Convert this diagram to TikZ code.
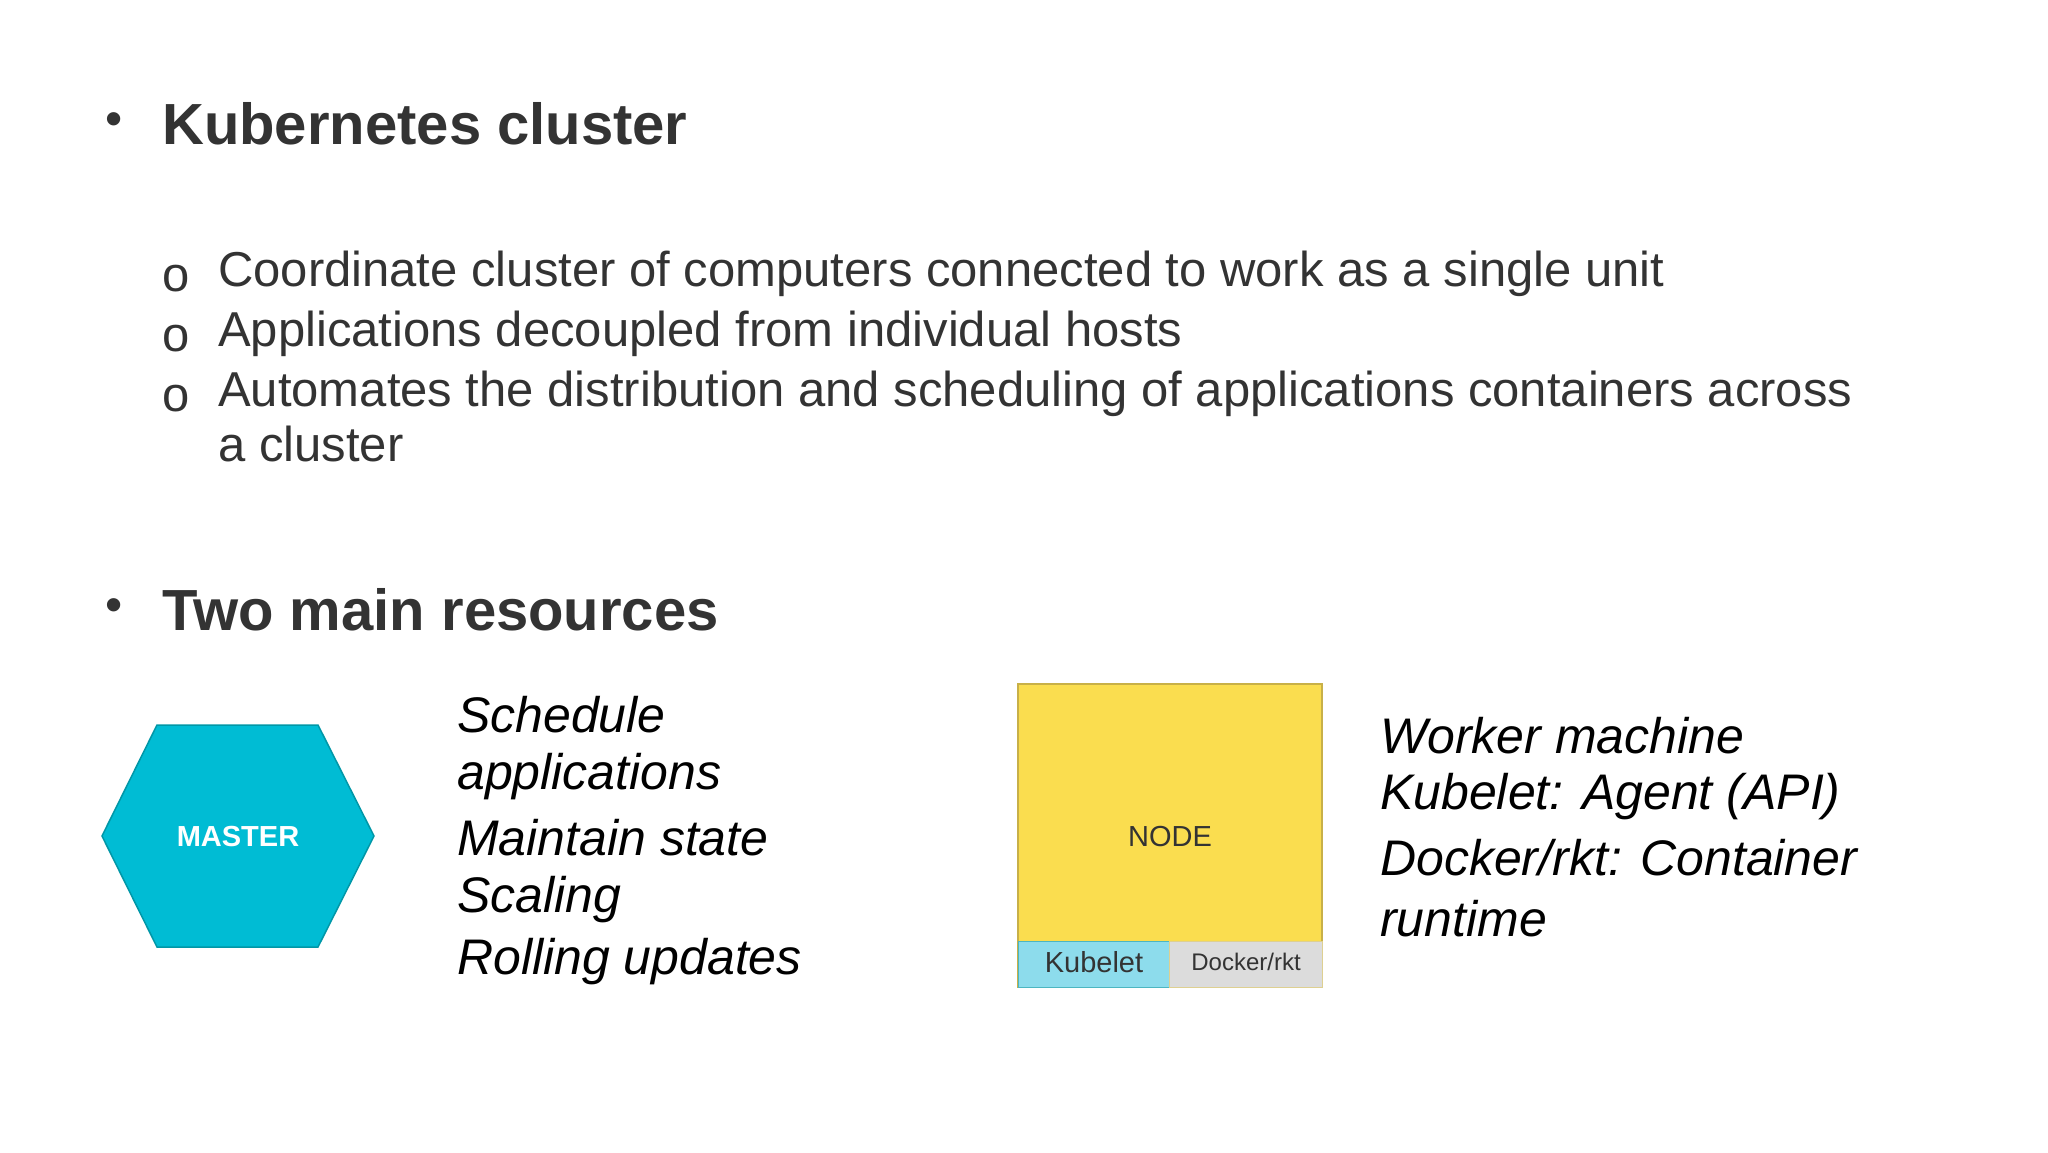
\documentclass[tikz,border=0pt]{standalone}
\usepackage{fontspec}
\setmainfont{Liberation Sans}
\usetikzlibrary{calc}
\definecolor{txt}{HTML}{333333}
\definecolor{hexc}{HTML}{00BCD4}
\definecolor{hexb}{HTML}{0097A7}
\definecolor{nodey}{HTML}{FADD4F}
\definecolor{nodeb}{HTML}{C8B048}
\definecolor{kub}{HTML}{8DDCEC}
\definecolor{dock}{HTML}{DCDCDC}
\tikzset{
  head/.style={anchor=west,inner sep=0pt,font=\fontsize{58}{60}\selectfont\bfseries,text=txt},
  sub/.style={anchor=west,inner sep=0pt,font=\fontsize{49}{58}\selectfont,text=txt},
  ital/.style={anchor=west,inner sep=0pt,font=\fontsize{50}{60}\selectfont\itshape,text=black},
  bul/.style={inner sep=0pt,font=\fontsize{49}{58}\selectfont,text=txt}
}
\begin{document}
\begin{tikzpicture}[x=1pt,y=-1pt]
\useasboundingbox (0,0) rectangle (2048,1152);
\fill[white] (0,0) rectangle (2048,1152);
% headings
\node[bul] (b1) at (114,124) {•};
\node[head] (h1) at (162,124) {Kubernetes cluster};
\node[bul] (o1) at (176,279) {o};
\node[sub] (s1) at (218,274) {Coordinate cluster of computers connected to work as a single unit};
\node[bul] (o2) at (176,339) {o};
\node[sub] (s2) at (218,334) {Applications decoupled from individual hosts};
\node[bul] (o3) at (176,399) {o};
\node[sub] (s3) at (218,394) {Automates the distribution and scheduling of applications containers across};
\node[sub] (s4) at (218,444) {a cluster};
\node[bul] (b2) at (114,610) {•};
\node[head] (h2) at (162,610) {Two main resources};
% master hexagon
\filldraw[fill=hexc,draw=hexb,line width=1.5pt] (102,836) -- (157,725) -- (318,725) -- (374,836) -- (318,947) -- (157,947) -- cycle;
\node[font=\fontsize{29}{32}\selectfont\bfseries,text=white] (master) at (238,837) {MASTER};
\node[ital] (m1) at (457,715) {Schedule};
\node[ital] (m2) at (457,777) {applications};
\node[ital] (m3) at (457,838) {Maintain state};
\node[ital] (m4) at (457,900) {Scaling};
\node[ital] (m5) at (457,962) {Rolling updates};
% node box
\filldraw[fill=nodey,draw=nodeb,line width=1.2pt] (1018,684) rectangle (1322,987);
\filldraw[fill=kub,draw=hexb!70,line width=1pt] (1018,941) rectangle (1169,987);
\filldraw[fill=dock,draw=nodeb!60,line width=1pt] (1169,941) rectangle (1322,987);
\node[font=\fontsize{29}{32}\selectfont,text=txt] (nd) at (1170,837) {NODE};
\node[font=\fontsize{29}{32}\selectfont,text=txt] (kb) at (1094,962) {Kubelet};
\node[font=\fontsize{24}{28}\selectfont,text=txt] (dk) at (1246,962) {Docker/rkt};
\node[ital] (w1) at (1380,736) {Worker machine};
\node[ital] (w2) at (1380,797) {Kubelet: Agent (API)};
\node[ital] (w3) at (1380,858) {Docker/rkt: Container};
\node[ital] (w4) at (1380,919) {runtime};
\end{tikzpicture}
\end{document}
